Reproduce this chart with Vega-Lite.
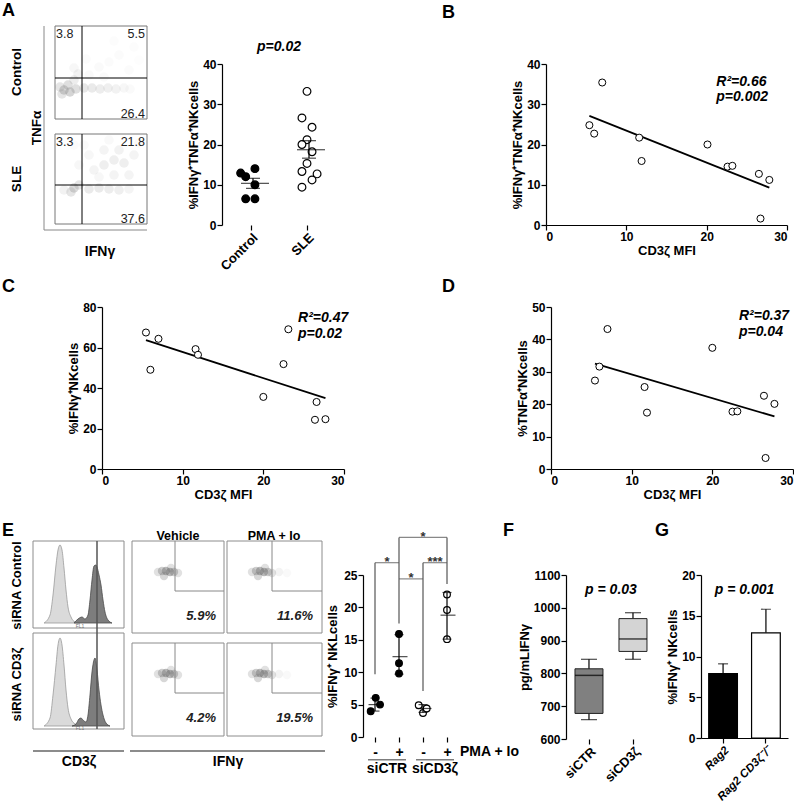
{
  "$schema": "https://vega.github.io/schema/vega-lite/v6.json",
  "padding": {"left": 2, "top": 2, "right": 0, "bottom": 0},
  "background": "white",
  "spacing": 5,
  "resolve": {"scale": {"fill": "independent", "stroke": "independent", "opacity": "independent", "xOffset": "independent"}},
  "config": {
    "font": "Liberation Sans",
    "view": {"stroke": null},
    "axis": {"grid": false, "domainColor": "#000", "tickColor": "#000", "labelColor": "#000", "titleColor": "#000", "labelFont": "Liberation Sans", "titleFont": "Liberation Sans", "labelFontWeight": "bold", "titleFontWeight": "bold", "labelFontSize": 12, "titleFontSize": 13, "tickSize": 5, "labelPadding": 1, "titlePadding": 2, "domainWidth": 1.2, "tickWidth": 1.2},
    "title": {"font": "Liberation Sans", "fontWeight": "bold", "color": "#000", "fontSize": 18},
    "text": {"font": "Liberation Sans", "color": "#000"},
    "tick": {"color": "#000"}
  },
  "datasets": {
    "fa_dens": [
      {"x":20,"y":135,"d":0.8},{"x":26,"y":133,"d":0.8},{"x":32,"y":136,"d":0.6},{"x":16,"y":138,"d":0.5},{"x":24,"y":140,"d":0.6},{"x":18,"y":131,"d":0.5},{"x":40,"y":137,"d":0.45},{"x":48,"y":137,"d":0.4},{"x":56,"y":136,"d":0.35},{"x":64,"y":137,"d":0.3},{"x":72,"y":136,"d":0.25},{"x":80,"y":137,"d":0.15},{"x":86,"y":136,"d":0.1},{"x":30,"y":145,"d":0.35},{"x":34,"y":151,"d":0.25},{"x":30,"y":157,"d":0.15},{"x":45,"y":150,"d":0.12},{"x":55,"y":158,"d":0.1},{"x":65,"y":163,"d":0.08},{"x":75,"y":170,"d":0.07},{"x":60,"y":148,"d":0.1},{"x":85,"y":155,"d":0.07},{"x":90,"y":178,"d":0.05},{"x":70,"y":184,"d":0.05},{"x":42,"y":166,"d":0.07},{"x":95,"y":165,"d":0.04},
      {"x":30,"y":37,"d":0.7},{"x":27,"y":33,"d":0.5},{"x":35,"y":40,"d":0.5},{"x":20,"y":35,"d":0.25},{"x":45,"y":36,"d":0.4},{"x":55,"y":37,"d":0.4},{"x":65,"y":36,"d":0.35},{"x":75,"y":35,"d":0.3},{"x":85,"y":36,"d":0.2},{"x":50,"y":55,"d":0.2},{"x":60,"y":60,"d":0.3},{"x":70,"y":65,"d":0.3},{"x":80,"y":62,"d":0.3},{"x":75,"y":75,"d":0.25},{"x":60,"y":75,"d":0.2},{"x":90,"y":70,"d":0.2},{"x":85,"y":50,"d":0.2},{"x":45,"y":70,"d":0.15},{"x":35,"y":60,"d":0.15},{"x":40,"y":80,"d":0.1},{"x":95,"y":82,"d":0.1},{"x":65,"y":85,"d":0.12},{"x":30,"y":80,"d":0.07},{"x":55,"y":48,"d":0.15},{"x":70,"y":50,"d":0.2}
    ],
    "fa_box": [{"x":11,"x2":103,"y":106,"y2":199},{"x":11,"x2":103,"y":1,"y2":91}],
    "fa_axis": [{"x":0,"x2":0,"y":-5,"y2":199},{"x":0,"x2":103,"y":-5,"y2":-5}],
    "fa_gate": [{"x":38,"x2":38,"y":106,"y2":199},{"x":38,"x2":38,"y":1,"y2":91},{"x":11,"x2":103,"y":147,"y2":147},{"x":11,"x2":103,"y":40,"y2":40}],
    "fa_numL": [{"x":12,"y":187,"t":"3.8"},{"x":12,"y":79,"t":"3.3"}],
    "fa_numR": [{"x":101,"y":187,"t":"5.5"},{"x":101,"y":107,"t":"26.4"},{"x":101,"y":79,"t":"21.8"},{"x":101,"y":2,"t":"37.6"}],
    "fa_rot": [{"x":-27,"y":153,"t":"Control"},{"x":-27,"y":46,"t":"SLE"},{"x":-7,"y":97,"t":"TNFα"}],
    "a_pts": [
      {"g":"Control","v":12.9,"j":-0.37},{"g":"Control","v":12.0,"j":-0.19},{"g":"Control","v":14.0,"j":0.14},{"g":"Control","v":10.0,"j":0.14},{"g":"Control","v":6.5,"j":-0.19},{"g":"Control","v":6.5,"j":0.14},
      {"g":"SLE","v":33.2,"j":0},{"g":"SLE","v":26.6,"j":-0.18},{"g":"SLE","v":24.3,"j":0.18},{"g":"SLE","v":21.2,"j":0},{"g":"SLE","v":20.0,"j":-0.18},{"g":"SLE","v":18.2,"j":0.18},{"g":"SLE","v":15.3,"j":0},{"g":"SLE","v":13.3,"j":-0.18},{"g":"SLE","v":12.7,"j":0.36},{"g":"SLE","v":11.2,"j":0.18},{"g":"SLE","v":9.4,"j":-0.18}
    ],
    "a_st": [{"g":"Control","v":10.35,"lo":9.1,"hi":11.6},{"g":"SLE","v":18.7,"lo":16.6,"hi":20.95}],
    "b_pts": [{"x":5.4,"y":24.8},{"x":6.0,"y":22.7},{"x":7.0,"y":35.4},{"x":11.6,"y":21.7},{"x":11.9,"y":15.9},{"x":20.1,"y":20.0},{"x":22.6,"y":14.5},{"x":23.2,"y":14.7},{"x":26.5,"y":12.7},{"x":26.7,"y":1.6},{"x":27.8,"y":11.2}],
    "b_txt": [{"x":21.2,"y":34.6,"t":"R²=0.66"},{"x":21.2,"y":30.9,"t":"p=0.002"}],
    "c_pts": [{"x":5.45,"y":67.4},{"x":6.0,"y":49.0},{"x":7.0,"y":64.3},{"x":11.6,"y":59.2},{"x":11.9,"y":56.4},{"x":20.0,"y":35.6},{"x":22.5,"y":51.8},{"x":23.1,"y":69.0},{"x":26.6,"y":33.1},{"x":26.4,"y":24.3},{"x":27.7,"y":24.6}],
    "c_txt": [{"x":24.3,"y":72.7,"t":"R²=0.47"},{"x":24.3,"y":64.8,"t":"p=0.02"}],
    "d_pts": [{"x":5.45,"y":27.3},{"x":6.0,"y":31.6},{"x":7.0,"y":43.2},{"x":11.6,"y":25.3},{"x":11.9,"y":17.4},{"x":20.0,"y":37.4},{"x":22.5,"y":17.7},{"x":23.1,"y":17.8},{"x":26.4,"y":22.6},{"x":26.6,"y":3.4},{"x":27.7,"y":20.1}],
    "d_txt": [{"x":23.3,"y":46.0,"t":"R²=0.37"},{"x":23.3,"y":41.0,"t":"p=0.04"}],
    "e_box": [{"x":0,"x2":91,"y":109,"y2":196},{"x":0,"x2":91,"y":8,"y2":104},{"x":99,"x2":191,"y":104,"y2":196},{"x":194,"x2":289,"y":104,"y2":196},{"x":99,"x2":191,"y":1,"y2":94},{"x":194,"x2":289,"y":1,"y2":94}],
    "e_gate": [{"x":142,"x2":142,"y":146,"y2":196},{"x":142,"x2":191,"y":146,"y2":146},{"x":239,"x2":239,"y":146,"y2":196},{"x":239,"x2":289,"y":146,"y2":146},{"x":142,"x2":142,"y":44,"y2":94},{"x":142,"x2":191,"y":44,"y2":44},{"x":239,"x2":239,"y":44,"y2":94},{"x":239,"x2":289,"y":44,"y2":44}],
    "e_under": [{"x":0,"x2":91,"y":-14,"y2":-14},{"x":97,"x2":292,"y":-14,"y2":-14}],
    "e_hist": [
      {"p":"top","k":"light","x":11,"y":114},{"p":"top","k":"light","x":17,"y":122},{"p":"top","k":"light","x":20,"y":142},{"p":"top","k":"light","x":23,"y":172},{"p":"top","k":"light","x":25,"y":187},{"p":"top","k":"light","x":27,"y":192},{"p":"top","k":"light","x":29,"y":187},{"p":"top","k":"light","x":31,"y":169},{"p":"top","k":"light","x":33,"y":147},{"p":"top","k":"light","x":35,"y":130},{"p":"top","k":"light","x":38,"y":120},{"p":"top","k":"light","x":42,"y":115},{"p":"top","k":"light","x":47,"y":114},
      {"p":"top","k":"dark","x":41,"y":114},{"p":"top","k":"dark","x":45,"y":118},{"p":"top","k":"dark","x":49,"y":120},{"p":"top","k":"dark","x":52,"y":118},{"p":"top","k":"dark","x":55,"y":122},{"p":"top","k":"dark","x":57,"y":137},{"p":"top","k":"dark","x":59,"y":157},{"p":"top","k":"dark","x":61,"y":171},{"p":"top","k":"dark","x":63,"y":172},{"p":"top","k":"dark","x":64,"y":170},{"p":"top","k":"dark","x":66,"y":162},{"p":"top","k":"dark","x":68,"y":152},{"p":"top","k":"dark","x":70,"y":137},{"p":"top","k":"dark","x":72,"y":125},{"p":"top","k":"dark","x":75,"y":117},{"p":"top","k":"dark","x":79,"y":114},
      {"p":"bottom","k":"light","x":11,"y":11},{"p":"bottom","k":"light","x":17,"y":19},{"p":"bottom","k":"light","x":20,"y":42},{"p":"bottom","k":"light","x":23,"y":72},{"p":"bottom","k":"light","x":25,"y":92},{"p":"bottom","k":"light","x":27,"y":99},{"p":"bottom","k":"light","x":29,"y":92},{"p":"bottom","k":"light","x":31,"y":72},{"p":"bottom","k":"light","x":33,"y":47},{"p":"bottom","k":"light","x":35,"y":29},{"p":"bottom","k":"light","x":38,"y":18},{"p":"bottom","k":"light","x":42,"y":13},{"p":"bottom","k":"light","x":47,"y":11},
      {"p":"bottom","k":"dark","x":39,"y":11},{"p":"bottom","k":"dark","x":43,"y":13},{"p":"bottom","k":"dark","x":46,"y":18},{"p":"bottom","k":"dark","x":48,"y":19},{"p":"bottom","k":"dark","x":50,"y":17},{"p":"bottom","k":"dark","x":53,"y":15},{"p":"bottom","k":"dark","x":55,"y":22},{"p":"bottom","k":"dark","x":57,"y":42},{"p":"bottom","k":"dark","x":59,"y":65},{"p":"bottom","k":"dark","x":61,"y":77},{"p":"bottom","k":"dark","x":62,"y":79},{"p":"bottom","k":"dark","x":64,"y":67},{"p":"bottom","k":"dark","x":66,"y":47},{"p":"bottom","k":"dark","x":68,"y":32},{"p":"bottom","k":"dark","x":70,"y":22},{"p":"bottom","k":"dark","x":73,"y":14},{"p":"bottom","k":"dark","x":77,"y":11}
    ],
    "e_blob": [
      {"x":125,"y":165,"d":0.3},{"x":129,"y":166,"d":0.5},{"x":133,"y":166,"d":0.7},{"x":137,"y":165,"d":0.7},{"x":141,"y":165,"d":0.5},{"x":145,"y":164,"d":0.3},{"x":131,"y":161,"d":0.4},{"x":138,"y":169,"d":0.3},
      {"x":219,"y":165,"d":0.3},{"x":223,"y":166,"d":0.5},{"x":227,"y":166,"d":0.7},{"x":231,"y":165,"d":0.7},{"x":235,"y":165,"d":0.5},{"x":239,"y":164,"d":0.3},{"x":225,"y":161,"d":0.4},{"x":232,"y":169,"d":0.3},{"x":246,"y":165,"d":0.12},{"x":254,"y":164,"d":0.06},
      {"x":125,"y":63,"d":0.3},{"x":129,"y":64,"d":0.5},{"x":133,"y":64,"d":0.7},{"x":137,"y":63,"d":0.7},{"x":141,"y":63,"d":0.5},{"x":145,"y":62,"d":0.3},{"x":131,"y":59,"d":0.4},{"x":138,"y":67,"d":0.3},
      {"x":219,"y":63,"d":0.3},{"x":223,"y":64,"d":0.5},{"x":227,"y":64,"d":0.7},{"x":231,"y":63,"d":0.7},{"x":235,"y":63,"d":0.5},{"x":239,"y":62,"d":0.3},{"x":225,"y":59,"d":0.4},{"x":232,"y":67,"d":0.3},{"x":246,"y":63,"d":0.12},{"x":254,"y":62,"d":0.06}
    ],
    "e_pct": [{"x":183,"y":117,"t":"5.9%"},{"x":280,"y":117,"t":"11.6%"},{"x":183,"y":15,"t":"4.2%"},{"x":280,"y":15,"t":"19.5%"}],
    "e_hdr": [{"x":145,"y":197,"t":"Vehicle"},{"x":241,"y":197,"t":"PMA + Io"}],
    "e_rot": [{"x":-16,"y":151.5,"t":"siRNA Control"},{"x":-16,"y":52.5,"t":"siRNA CD3ζ"}],
    "e_bot": [{"x":46,"y":-29,"t":"CD3ζ"},{"x":195,"y":-29,"t":"IFNγ"}],
    "e_fl": [{"x":47,"y":111,"t":"FL1"},{"x":47,"y":9.5,"t":"FL1"}],
    "e_pts": [
      {"cond":"siCTR -","rna":"siCTR","v":3.98,"j":-0.43},{"cond":"siCTR -","rna":"siCTR","v":6.04,"j":0.07},{"cond":"siCTR -","rna":"siCTR","v":5.0,"j":0.5},
      {"cond":"siCTR +","rna":"siCTR","v":15.9,"j":0},{"cond":"siCTR +","rna":"siCTR","v":11.4,"j":0},{"cond":"siCTR +","rna":"siCTR","v":9.8,"j":0},
      {"cond":"siCD3ζ -","rna":"siCD3ζ","v":4.9,"j":-0.43},{"cond":"siCD3ζ -","rna":"siCD3ζ","v":3.7,"j":0},{"cond":"siCD3ζ -","rna":"siCD3ζ","v":4.4,"j":0.37},
      {"cond":"siCD3ζ +","rna":"siCD3ζ","v":22.0,"j":0},{"cond":"siCD3ζ +","rna":"siCD3ζ","v":19.6,"j":0},{"cond":"siCD3ζ +","rna":"siCD3ζ","v":15.1,"j":0}
    ],
    "e_st": [{"cond":"siCTR -","v":5.0,"lo":4.0,"hi":6.0},{"cond":"siCTR +","v":12.4,"lo":9.7,"hi":15.8},{"cond":"siCD3ζ -","v":4.4,"lo":3.8,"hi":5.0},{"cond":"siCD3ζ +","v":18.8,"lo":15.1,"hi":22.3}],
    "e_brv": [{"cond":"siCTR -","v":9.7,"v2":26.9},{"cond":"siCTR +","v":17.5,"v2":30.8},{"cond":"siCD3ζ +","v":23.6,"v2":30.8},{"cond":"siCD3ζ -","v":7.1,"v2":26.9}],
    "e_brh1": [{"cond":"siCTR -","v":26.9,"s":"*"},{"cond":"siCTR +","v":24.4,"s":"*"},{"cond":"siCD3ζ -","v":26.9,"s":"***"}],
    "e_brh2": [{"cond":"siCD3ζ -","v":30.8,"s":"*"}],
    "e_ul": [{"cond":"siCTR -","v":-3.5},{"cond":"siCD3ζ -","v":-3.5}],
    "e_grp": [{"cond":"siCTR -","v":-4.94,"t":"siCTR"},{"cond":"siCD3ζ -","v":-4.94,"t":"siCD3ζ"}],
    "e_pma": [{"cond":"siCD3ζ +","v":-2.37,"t":"PMA + Io"}],
    "f_box": [{"g":"siCTR","min":659,"q1":678,"med":794,"q3":814,"max":843},{"g":"siCD3ζ","min":843,"q1":867,"med":905,"q3":967,"max":985}],
    "f_p": [{"g":"siCTR","med":1054,"t":"p = 0.03"}],
    "g_bar": [{"g":"Rag2","v":7.9,"hi":9.1},{"g":"Rag2 CD3ζ⁻/⁻","v":12.9,"hi":15.8}],
    "g_p": [{"g":"Rag2","v":18.2,"t":"p = 0.001"}]
  },
  "vconcat": [
    {
      "spacing": 0,
      "bounds": "flush",
      "resolve": {"scale": {"fill": "independent", "stroke": "independent", "opacity": "independent", "xOffset": "independent"}},
      "hconcat": [
        {
          "width": 120, "height": 161,
          "encoding": {
            "x": {"field": "x", "type": "quantitative", "scale": {"domain": [58, 178], "nice": false, "zero": false}, "axis": null},
            "y": {"field": "y", "type": "quantitative", "scale": {"domain": [0, 161], "nice": false, "zero": false}, "axis": null}
          },
          "layer": [
            {"data": {"name": "fa_dens"}, "mark": {"type": "circle", "size": 90, "color": "#8a8a8a"}, "encoding": {"opacity": {"field": "d", "type": "quantitative", "scale": {"domain": [0, 1], "range": [0, 0.45]}, "legend": null}}},
            {"data": {"name": "fa_box"}, "mark": {"type": "rect", "filled": false, "color": "#777", "strokeWidth": 1}, "encoding": {"x2": {"field": "x2"}, "y2": {"field": "y2"}}},
            {"data": {"name": "fa_axis"}, "mark": {"type": "rule", "color": "#888", "strokeWidth": 1}, "encoding": {"x2": {"field": "x2"}, "y2": {"field": "y2"}}},
            {"data": {"name": "fa_gate"}, "mark": {"type": "rule", "color": "#000", "strokeWidth": 1}, "encoding": {"x2": {"field": "x2"}, "y2": {"field": "y2"}}},
            {"data": {"name": "fa_numL"}, "mark": {"type": "text", "align": "left", "baseline": "alphabetic", "fontSize": 12.5, "color": "#222"}, "encoding": {"text": {"field": "t"}}},
            {"data": {"name": "fa_numR"}, "mark": {"type": "text", "align": "right", "baseline": "alphabetic", "fontSize": 12.5, "color": "#222"}, "encoding": {"text": {"field": "t"}}},
            {"data": {"name": "fa_rot"}, "mark": {"type": "text", "angle": 270, "align": "center", "baseline": "middle", "fontSize": 13.5, "fontWeight": "bold"}, "encoding": {"text": {"field": "t"}}},
            {"data": {"values": [{"x": 56, "y": -31, "t": "IFNγ"}]}, "mark": {"type": "text", "align": "center", "baseline": "alphabetic", "fontSize": 14, "fontWeight": "bold"}, "encoding": {"text": {"field": "t"}}},
            {"data": {"values": [{"x": -42, "y": 209, "t": "A"}]}, "mark": {"type": "text", "align": "left", "baseline": "alphabetic", "fontSize": 18, "fontWeight": "bold"}, "encoding": {"text": {"field": "t"}}}
          ]
        },
        {
          "width": 324, "height": 161,
          "title": {"text": "p=0.02", "anchor": "start", "frame": "group", "dx": 35, "offset": -7, "baseline": "alphabetic", "fontSize": 14, "fontStyle": "italic", "fontWeight": "bold"},
          "encoding": {
            "x": {"field": "g", "type": "nominal", "scale": {"type": "point", "domain": ["Control", "SLE", "·1", "·2", "·3", "·4"], "padding": 0.393, "align": 0.659}, "axis": {"title": null, "domain": false, "values": ["Control", "SLE"], "labelAngle": -45, "labelFontSize": 13}},
            "y": {"field": "v", "type": "quantitative", "scale": {"domain": [0, 40], "nice": false}, "axis": {"title": "%IFNγ⁺TNFα⁺NKcells", "values": [0, 10, 20, 30, 40]}}
          },
          "layer": [
            {"data": {"values": [{"g": "Control"}]}, "mark": {"type": "tick", "orient": "horizontal", "size": 110, "thickness": 1.2, "color": "#000", "fill": "#000", "xOffset": 26}, "encoding": {"y": {"datum": 0}}},
            {"data": {"name": "a_pts"}, "mark": {"type": "point", "shape": "circle", "filled": true, "stroke": "#000", "strokeWidth": 1.2, "size": 60, "opacity": 1}, "encoding": {"xOffset": {"field": "j", "type": "quantitative", "scale": {"domain": [-1, 1], "range": [-28, 28]}}, "fill": {"field": "g", "type": "nominal", "scale": {"domain": ["Control", "SLE"], "range": ["#000", "#fff"]}, "legend": null}}},
            {"data": {"name": "a_st"}, "mark": {"type": "rule", "strokeWidth": 1.2, "color": "#000", "xOffset": 2}, "encoding": {"y": {"field": "lo", "type": "quantitative"}, "y2": {"field": "hi"}}},
            {"data": {"name": "a_st"}, "mark": {"type": "tick", "size": 14, "thickness": 1.2, "color": "#000", "fill": "#000", "xOffset": 2}, "encoding": {"y": {"field": "lo", "type": "quantitative"}}},
            {"data": {"name": "a_st"}, "mark": {"type": "tick", "size": 14, "thickness": 1.2, "color": "#000", "fill": "#000", "xOffset": 2}, "encoding": {"y": {"field": "hi", "type": "quantitative"}}},
            {"data": {"name": "a_st"}, "mark": {"type": "tick", "size": 28, "thickness": 1.2, "color": "#000", "fill": "#000", "xOffset": 4}}
          ]
        },
        {
          "width": 241, "height": 161,
          "title": {"text": "B", "anchor": "start", "frame": "group", "dx": -104, "offset": 22, "baseline": "alphabetic"},
          "data": {"name": "b_pts"},
          "encoding": {
            "x": {"field": "x", "type": "quantitative", "scale": {"domain": [0, 30], "nice": false}, "axis": {"title": "CD3ζ MFI", "values": [0, 10, 20, 30]}},
            "y": {"field": "y", "type": "quantitative", "scale": {"domain": [0, 40], "nice": false}, "axis": {"title": "%IFNγ⁺TNFα⁺NKcells", "values": [0, 10, 20, 30, 40]}}
          },
          "layer": [
            {"transform": [{"regression": "y", "on": "x"}], "mark": {"type": "line", "color": "#000", "strokeWidth": 1.8}},
            {"mark": {"type": "point", "shape": "circle", "filled": true, "fill": "#fff", "stroke": "#000", "strokeWidth": 1, "size": 50, "opacity": 1}},
            {"data": {"name": "b_txt"}, "mark": {"type": "text", "align": "left", "baseline": "alphabetic", "fontSize": 14, "fontStyle": "italic", "fontWeight": "bold"}, "encoding": {"text": {"field": "t"}}}
          ]
        }
      ]
    },
    {
      "spacing": 207,
      "bounds": "flush",
      "resolve": {"scale": {"fill": "independent", "stroke": "independent", "opacity": "independent", "xOffset": "independent"}},
      "hconcat": [
        {
          "width": 242, "height": 162,
          "title": {"text": "C", "anchor": "start", "frame": "group", "dx": -100, "offset": -9, "baseline": "alphabetic"},
          "data": {"name": "c_pts"},
          "encoding": {
            "x": {"field": "x", "type": "quantitative", "scale": {"domain": [0, 30], "nice": false}, "axis": {"title": ["CD3ζ MFI", " "], "titleLineHeight": 16, "values": [0, 10, 20, 30]}},
            "y": {"field": "y", "type": "quantitative", "scale": {"domain": [0, 80], "nice": false}, "axis": {"title": "%IFNγ⁺NKcells", "values": [0, 20, 40, 60, 80]}}
          },
          "layer": [
            {"transform": [{"regression": "y", "on": "x"}], "mark": {"type": "line", "color": "#000", "strokeWidth": 1.8}},
            {"mark": {"type": "point", "shape": "circle", "filled": true, "fill": "#fff", "stroke": "#000", "strokeWidth": 1, "size": 50, "opacity": 1}},
            {"data": {"name": "c_txt"}, "mark": {"type": "text", "align": "left", "baseline": "alphabetic", "fontSize": 14, "fontStyle": "italic", "fontWeight": "bold"}, "encoding": {"text": {"field": "t"}}}
          ]
        },
        {
          "width": 242, "height": 162,
          "title": {"text": "D", "anchor": "start", "frame": "group", "dx": -109, "offset": -9, "baseline": "alphabetic"},
          "data": {"name": "d_pts"},
          "encoding": {
            "x": {"field": "x", "type": "quantitative", "scale": {"domain": [0, 30], "nice": false}, "axis": {"title": "CD3ζ MFI", "values": [0, 10, 20, 30]}},
            "y": {"field": "y", "type": "quantitative", "scale": {"domain": [0, 50], "nice": false}, "axis": {"title": "%TNFα⁺NKcells", "values": [0, 10, 20, 30, 40, 50]}}
          },
          "layer": [
            {"transform": [{"regression": "y", "on": "x"}], "mark": {"type": "line", "color": "#000", "strokeWidth": 1.8}},
            {"mark": {"type": "point", "shape": "circle", "filled": true, "fill": "#fff", "stroke": "#000", "strokeWidth": 1, "size": 50, "opacity": 1}},
            {"data": {"name": "d_txt"}, "mark": {"type": "text", "align": "left", "baseline": "alphabetic", "fontSize": 14, "fontStyle": "italic", "fontWeight": "bold"}, "encoding": {"text": {"field": "t"}}}
          ]
        }
      ]
    },
    {
      "spacing": 0,
      "bounds": "flush",
      "resolve": {"scale": {"fill": "independent", "stroke": "independent", "opacity": "independent", "xOffset": "independent"}},
      "hconcat": [
        {
          "width": 261, "height": 162,
          "encoding": {
            "x": {"field": "x", "type": "quantitative", "scale": {"domain": [69, 330], "nice": false, "zero": false}, "axis": null},
            "y": {"field": "y", "type": "quantitative", "scale": {"domain": [0, 162], "nice": false, "zero": false}, "axis": null}
          },
          "layer": [
            {"data": {"name": "e_hist"}, "transform": [{"filter": "datum.p == 'top'"}], "mark": {"type": "area", "strokeWidth": 0.8, "interpolate": "monotone"}, "encoding": {"y": {"field": "y", "type": "quantitative", "stack": null}, "y2": {"datum": 114}, "fill": {"field": "k", "type": "nominal", "scale": {"domain": ["light", "dark"], "range": ["#dadada", "#7d7d7d"]}, "legend": null}, "stroke": {"field": "k", "type": "nominal", "scale": {"domain": ["light", "dark"], "range": ["#9a9a9a", "#4a4a4a"]}, "legend": null}}},
            {"data": {"name": "e_hist"}, "transform": [{"filter": "datum.p == 'bottom'"}], "mark": {"type": "area", "strokeWidth": 0.8, "interpolate": "monotone"}, "encoding": {"y": {"field": "y", "type": "quantitative", "stack": null}, "y2": {"datum": 11}, "fill": {"field": "k", "type": "nominal", "scale": {"domain": ["light", "dark"], "range": ["#dadada", "#7d7d7d"]}, "legend": null}, "stroke": {"field": "k", "type": "nominal", "scale": {"domain": ["light", "dark"], "range": ["#9a9a9a", "#4a4a4a"]}, "legend": null}}},
            {"data": {"name": "e_blob"}, "mark": {"type": "circle", "size": 70, "color": "#707070"}, "encoding": {"opacity": {"field": "d", "type": "quantitative", "scale": {"domain": [0, 1], "range": [0, 0.7]}, "legend": null}}},
            {"data": {"name": "e_box"}, "mark": {"type": "rect", "filled": false, "color": "#8c8c8c", "strokeWidth": 1}, "encoding": {"x2": {"field": "x2"}, "y2": {"field": "y2"}}},
            {"data": {"name": "e_gate"}, "mark": {"type": "rule", "color": "#888", "strokeWidth": 1}, "encoding": {"x2": {"field": "x2"}, "y2": {"field": "y2"}}},
            {"data": {"values": [{"x": 64, "x2": 64, "y": 8, "y2": 196}]}, "mark": {"type": "rule", "color": "#555", "strokeWidth": 1.5}, "encoding": {"x2": {"field": "x2"}, "y2": {"field": "y2"}}},
            {"data": {"name": "e_under"}, "mark": {"type": "rule", "color": "#666", "strokeWidth": 1.5}, "encoding": {"x2": {"field": "x2"}, "y2": {"field": "y2"}}},
            {"data": {"name": "e_fl"}, "mark": {"type": "text", "align": "center", "baseline": "middle", "fontSize": 5, "color": "#777"}, "encoding": {"text": {"field": "t"}}},
            {"data": {"name": "e_pct"}, "mark": {"type": "text", "align": "right", "baseline": "alphabetic", "fontSize": 13, "fontStyle": "italic", "fontWeight": "bold", "color": "#222"}, "encoding": {"text": {"field": "t"}}},
            {"data": {"name": "e_hdr"}, "mark": {"type": "text", "align": "center", "baseline": "alphabetic", "fontSize": 12.5, "fontWeight": "bold"}, "encoding": {"text": {"field": "t"}}},
            {"data": {"name": "e_rot"}, "mark": {"type": "text", "angle": 270, "align": "center", "baseline": "middle", "fontSize": 13, "fontWeight": "bold"}, "encoding": {"text": {"field": "t"}}},
            {"data": {"name": "e_bot"}, "mark": {"type": "text", "align": "center", "baseline": "alphabetic", "fontSize": 14, "fontWeight": "bold"}, "encoding": {"text": {"field": "t"}}},
            {"data": {"values": [{"x": -31, "y": 201, "t": "E"}]}, "mark": {"type": "text", "align": "left", "baseline": "alphabetic", "fontSize": 18, "fontWeight": "bold"}, "encoding": {"text": {"field": "t"}}}
          ]
        },
        {
          "width": 203, "height": 162,
          "encoding": {
            "x": {"field": "cond", "type": "nominal", "scale": {"type": "point", "domain": ["siCTR -", "siCTR +", "siCD3ζ -", "siCD3ζ +", "·1", "·2", "·3", "·4"], "padding": 0.729, "align": 0.343}, "axis": {"title": null, "domain": false, "values": ["siCTR -", "siCTR +", "siCD3ζ -", "siCD3ζ +"], "labelAngle": 0, "labelFontSize": 14, "labelPadding": 3, "labelExpr": "indexof(datum.label, '+') >= 0 ? '+' : '-'"}},
            "y": {"field": "v", "type": "quantitative", "scale": {"domain": [0, 25], "nice": false}, "axis": {"title": "%IFNγ⁺ NKLcells", "values": [0, 5, 10, 15, 20, 25], "titlePadding": 4}}
          },
          "layer": [
            {"data": {"values": [{"cond": "siCTR -"}]}, "mark": {"type": "tick", "orient": "horizontal", "size": 89, "thickness": 1.2, "color": "#000", "fill": "#000", "xOffset": 32.5}, "encoding": {"y": {"datum": 0}}},
            {"data": {"name": "e_brv"}, "mark": {"type": "rule", "color": "#555", "strokeWidth": 1.2}, "encoding": {"y2": {"field": "v2"}}},
            {"data": {"name": "e_brh1"}, "mark": {"type": "tick", "orient": "horizontal", "size": 24, "thickness": 1.2, "color": "#555", "fill": "#555", "xOffset": 12}},
            {"data": {"name": "e_brh2"}, "mark": {"type": "tick", "orient": "horizontal", "size": 48, "thickness": 1.2, "color": "#555", "fill": "#555"}},
            {"data": {"name": "e_brh1"}, "mark": {"type": "text", "dx": 12, "dy": 3.5, "align": "center", "baseline": "alphabetic", "fontSize": 13, "fontWeight": "bold", "color": "#333", "fill": "#333"}, "encoding": {"text": {"field": "s"}}},
            {"data": {"name": "e_brh2"}, "mark": {"type": "text", "dy": 3.5, "align": "center", "baseline": "alphabetic", "fontSize": 13, "fontWeight": "bold", "color": "#333", "fill": "#333"}, "encoding": {"text": {"field": "s"}}},
            {"data": {"name": "e_pts"}, "mark": {"type": "point", "shape": "circle", "filled": true, "stroke": "#000", "strokeWidth": 1.2, "size": 45, "opacity": 1}, "encoding": {"xOffset": {"field": "j", "type": "quantitative", "scale": {"domain": [-1, 1], "range": [-10, 10]}}, "fill": {"field": "rna", "type": "nominal", "scale": {"domain": ["siCTR", "siCD3ζ"], "range": ["#000", "#fff"]}, "legend": null}}},
            {"data": {"name": "e_st"}, "mark": {"type": "rule", "strokeWidth": 1.2, "color": "#000"}, "encoding": {"y": {"field": "lo", "type": "quantitative"}, "y2": {"field": "hi"}}},
            {"data": {"name": "e_st"}, "mark": {"type": "tick", "size": 9, "thickness": 1.2, "color": "#000", "fill": "#000"}, "encoding": {"y": {"field": "lo", "type": "quantitative"}}},
            {"data": {"name": "e_st"}, "mark": {"type": "tick", "size": 9, "thickness": 1.2, "color": "#000", "fill": "#000"}, "encoding": {"y": {"field": "hi", "type": "quantitative"}}},
            {"data": {"name": "e_st"}, "mark": {"type": "tick", "size": 15, "thickness": 1.2, "color": "#000", "fill": "#000", "xOffset": 1}},
            {"data": {"name": "e_ul"}, "mark": {"type": "tick", "orient": "horizontal", "size": 38, "thickness": 1.5, "color": "#444", "fill": "#444", "xOffset": 12}},
            {"data": {"name": "e_grp"}, "mark": {"type": "text", "dx": 12, "align": "center", "baseline": "middle", "fontSize": 14, "fontWeight": "bold"}, "encoding": {"text": {"field": "t"}}},
            {"data": {"name": "e_pma"}, "mark": {"type": "text", "dx": 13, "align": "left", "baseline": "middle", "fontSize": 14, "fontWeight": "bold"}, "encoding": {"text": {"field": "t"}}}
          ]
        },
        {
          "width": 135, "height": 164,
          "title": {"text": "F", "anchor": "start", "frame": "group", "dx": -63, "offset": 15, "baseline": "alphabetic"},
          "encoding": {
            "x": {"field": "g", "type": "nominal", "scale": {"type": "point", "domain": ["siCTR", "siCD3ζ", "·1"], "padding": 0.534, "align": 0.489}, "axis": {"title": null, "domain": false, "values": ["siCTR", "siCD3ζ"], "labelAngle": -45, "labelFontSize": 13}},
            "y": {"field": "med", "type": "quantitative", "scale": {"domain": [600, 1100], "nice": false, "zero": false}, "axis": {"title": "pg/mLIFNγ", "values": [600, 700, 800, 900, 1000, 1100], "format": "d"}}
          },
          "layer": [
            {"data": {"values": [{"g": "siCTR"}]}, "mark": {"type": "tick", "orient": "horizontal", "size": 89, "thickness": 1.2, "color": "#000", "fill": "#000", "xOffset": 21.5}, "encoding": {"y": {"datum": 600, "type": "quantitative", "scale": {"domain": [600, 1100], "nice": false, "zero": false}}}},
            {"data": {"name": "f_box"}, "mark": {"type": "rule", "color": "#000", "strokeWidth": 1.2}, "encoding": {"y": {"field": "min", "type": "quantitative", "scale": {"domain": [600, 1100], "nice": false, "zero": false}}, "y2": {"field": "max"}}},
            {"data": {"name": "f_box"}, "mark": {"type": "bar", "width": 28, "stroke": "#222", "strokeWidth": 1}, "encoding": {"y": {"field": "q1", "type": "quantitative", "scale": {"domain": [600, 1100], "nice": false, "zero": false}}, "y2": {"field": "q3"}, "fill": {"field": "g", "type": "nominal", "scale": {"domain": ["siCTR", "siCD3ζ"], "range": ["#808080", "#d4d4d4"]}, "legend": null}}},
            {"data": {"name": "f_box"}, "mark": {"type": "tick", "size": 28, "thickness": 1.5, "color": "#000", "fill": "#000"}},
            {"data": {"name": "f_box"}, "mark": {"type": "tick", "size": 16, "thickness": 1.2, "color": "#000", "fill": "#000"}, "encoding": {"y": {"field": "min", "type": "quantitative", "scale": {"domain": [600, 1100], "nice": false, "zero": false}}}},
            {"data": {"name": "f_box"}, "mark": {"type": "tick", "size": 16, "thickness": 1.2, "color": "#000", "fill": "#000"}, "encoding": {"y": {"field": "max", "type": "quantitative", "scale": {"domain": [600, 1100], "nice": false, "zero": false}}}},
            {"data": {"name": "f_p"}, "mark": {"type": "text", "dx": 22, "align": "center", "baseline": "middle", "fontSize": 14, "fontStyle": "italic", "fontWeight": "bold"}, "encoding": {"text": {"field": "t"}}}
          ]
        },
        {
          "width": 87, "height": 163,
          "title": {"text": "G", "anchor": "start", "frame": "group", "dx": -46, "offset": 15, "baseline": "alphabetic"},
          "encoding": {
            "x": {"field": "g", "type": "nominal", "sort": null, "scale": {"type": "band", "domain": ["Rag2", "Rag2 CD3ζ⁻/⁻"], "paddingInner": 0.33, "paddingOuter": 0.18}, "axis": {"title": null, "labelAngle": -45, "labelFontSize": 11.5, "labelFontStyle": "italic"}},
            "y": {"field": "v", "type": "quantitative", "scale": {"domain": [0, 20], "nice": false}, "axis": {"title": "%IFNγ⁺ NKcells", "values": [0, 5, 10, 15, 20]}}
          },
          "layer": [
            {"data": {"name": "g_bar"}, "mark": {"type": "rule", "strokeWidth": 1.2, "color": "#000"}, "encoding": {"y2": {"field": "hi"}}},
            {"data": {"name": "g_bar"}, "mark": {"type": "tick", "size": 10, "thickness": 1.2, "color": "#000", "fill": "#000"}, "encoding": {"y": {"field": "hi", "type": "quantitative"}}},
            {"data": {"name": "g_bar"}, "mark": {"type": "bar", "stroke": "#000", "strokeWidth": 1.2}, "encoding": {"fill": {"field": "g", "type": "nominal", "scale": {"domain": ["Rag2", "Rag2 CD3ζ⁻/⁻"], "range": ["#000", "#fff"]}, "legend": null}}},
            {"data": {"name": "g_p"}, "mark": {"type": "text", "dx": 21.5, "align": "center", "baseline": "middle", "fontSize": 14, "fontStyle": "italic", "fontWeight": "bold"}, "encoding": {"text": {"field": "t"}}}
          ]
        }
      ]
    }
  ]
}
